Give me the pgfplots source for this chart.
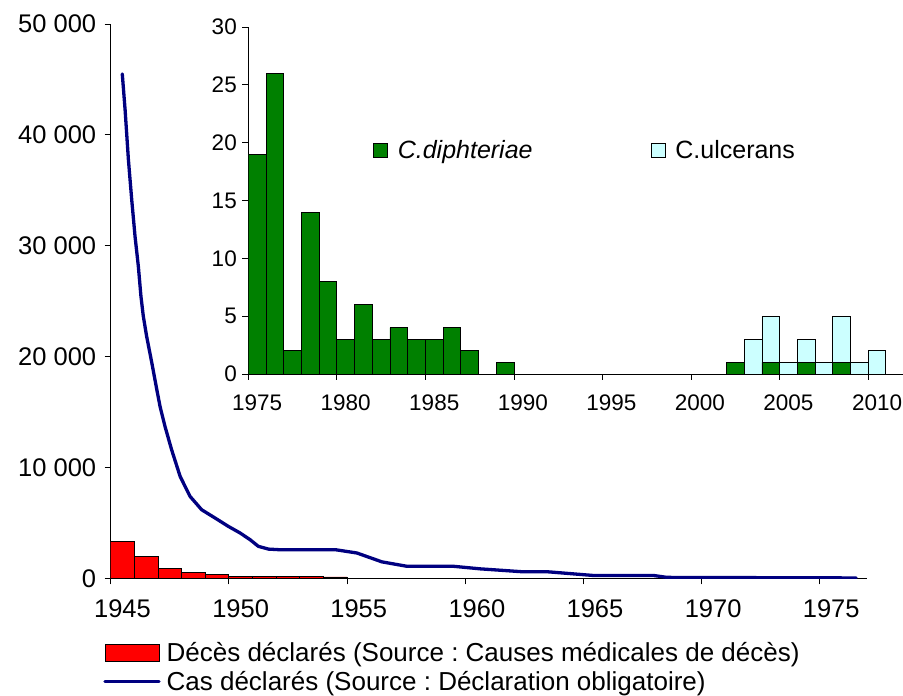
\documentclass[border=0pt]{standalone}
\usepackage{pgfplots}
\usepackage{pgfplotstable}
\pgfplotsset{compat=1.18}
\usepackage{fontspec}
\setmainfont{Liberation Sans}
\frenchspacing
\definecolor{barred}{RGB}{255,0,0}
\definecolor{linenavy}{RGB}{0,0,128}
\definecolor{bargreen}{RGB}{0,128,0}
\definecolor{barcyan}{RGB}{204,255,255}

\pgfplotstableread{
year green cyan
1975 19 0
1976 26 0
1977 2 0
1978 14 0
1979 8 0
1980 3 0
1981 6 0
1982 3 0
1983 4 0
1984 3 0
1985 3 0
1986 4 0
1987 2 0
1988 0 0
1989 1 0
1990 0 0
1991 0 0
1992 0 0
1993 0 0
1994 0 0
1995 0 0
1996 0 0
1997 0 0
1998 0 0
1999 0 0
2000 0 0
2001 0 0
2002 1 0
2003 0 3
2004 1 4
2005 0 1
2006 1 2
2007 0 1
2008 1 4
2009 0 1
2010 0 2
}\insettable

\begin{document}
\begin{tikzpicture}[x=1pt,y=1pt]
\useasboundingbox (0,0) rectangle (903,696);
% main chart
\begin{axis}[
  at={(110.7pt,117.5pt)}, anchor=south west,
  scale only axis, width=756pt, height=554.5pt,
  xmin=1945, xmax=1977, ymin=0, ymax=50000,
  axis x line*=bottom, axis y line*=left,
  axis line style={-, black, line width=0.8pt},
  tick align=outside, major tick length=6pt,
  tick style={black, line width=0.8pt},
  xtick={1945,1950,...,1975},
  xticklabels={1945,1950,1955,1960,1965,1970,1975},
  xticklabel style={xshift=11.8pt, yshift=-12pt},
  ytick={0,10000,20000,30000,40000,50000},
  yticklabels={0,10 000,20 000,30 000,40 000,50 000},
  yticklabel style={xshift=-5pt},
  scaled y ticks=false,
  tick label style={font=\fontsize{25.5}{30}\selectfont},
  legend style={at={(axis description cs:-0.01,-0.112)}, anchor=north west,
    draw=none, fill=none, font=\fontsize{26}{30}\selectfont,
    row sep=4pt, column sep=4pt, inner sep=0pt},
  legend cell align=left,
]
\addplot[ybar, bar width=1, bar shift=0pt, fill=barred, draw=black, line width=0.8pt,
  legend image code/.code={\draw[fill=barred,draw=black,line width=0.8pt] (0pt,-8.5pt) rectangle (54pt,8.5pt);}]
  coordinates {
  (1945.5,3300) (1946.5,2000) (1947.5,930) (1948.5,580) (1949.5,400)
  (1950.5,200) (1951.5,180) (1952.5,160) (1953.5,150) (1954.5,140)
  };
\addlegendentry{Décès déclarés (Source : Causes médicales de décès)}
\addplot[linenavy, line width=3.3pt, line join=round, line cap=round,
  legend image code/.code={\draw[linenavy,line width=3.3pt] (0pt,0pt) -- (54pt,0pt);}]
  coordinates {
  (1945.49,45500) (1945.61,42250) (1945.75,37750) (1945.89,34150)
  (1946.03,30850) (1946.17,28150) (1946.28,25450) (1946.38,23650)
  (1946.52,21850) (1946.74,19450) (1946.95,17050) (1947.09,15500)
  (1947.30,13700) (1947.58,11600) (1947.94,9200) (1948.36,7400)
  (1948.85,6200) (1949.42,5450) (1949.98,4700) (1950.48,4100)
  (1950.90,3500) (1951.25,2900) (1951.68,2650) (1952.10,2600)
  (1954.50,2600) (1955.42,2300) (1956.48,1500) (1957.54,1100)
  (1959.51,1100) (1960.64,870) (1962.48,600) (1963.53,600)
  (1965.44,270) (1967.98,270) (1968.55,100) (1976.55,50)
  };
\addlegendentry{Cas déclarés (Source : Déclaration obligatoire)}
\end{axis}
% inset chart
\begin{axis}[
  at={(248.3pt,322pt)}, anchor=south west,
  scale only axis, width=655.3pt, height=347pt,
  xmin=1975, xmax=2012, ymin=0, ymax=30,
  axis x line*=bottom, axis y line*=left,
  axis line style={-, black, line width=0.8pt},
  tick align=outside, major tick length=6pt,
  tick style={black, line width=0.8pt},
  xtick={1975,1980,...,2010},
  xticklabels={1975,1980,1985,1990,1995,2000,2005,2010},
  xticklabel style={xshift=8.85pt, yshift=-11pt},
  ytick={0,5,...,30},
  yticklabels={0,5,10,15,20,25,30},
  yticklabel style={xshift=-2pt},
  tick label style={font=\fontsize{22.5}{27}\selectfont},
  ybar stacked, bar width=1, bar shift=0pt,
  legend columns=2,
  legend style={at={(axis description cs:0.19,0.6455)}, anchor=west,
    draw=none, fill=none, font=\fontsize{25}{29}\selectfont,
    column sep=8pt, inner sep=0pt,
    /tikz/column 2/.style={column sep=116pt}},
  legend cell align=left,
]
\addplot[fill=bargreen, draw=black, line width=0.8pt,
  legend image code/.code={\draw[fill=bargreen,draw=black,line width=0.8pt] (0pt,-7pt) rectangle (14pt,7pt);}]
  table[x expr=\thisrow{year}+0.5, y=green] {\insettable};
\addlegendentry{\textit{C.diphteriae}}
\addplot[fill=barcyan, draw=black, line width=0.8pt,
  legend image code/.code={\draw[fill=barcyan,draw=black,line width=0.8pt] (0pt,-7pt) rectangle (14pt,7pt);}]
  table[x expr=\thisrow{year}+0.5, y=cyan] {\insettable};
\addlegendentry{C.ulcerans}
\end{axis}
\end{tikzpicture}
\end{document}
